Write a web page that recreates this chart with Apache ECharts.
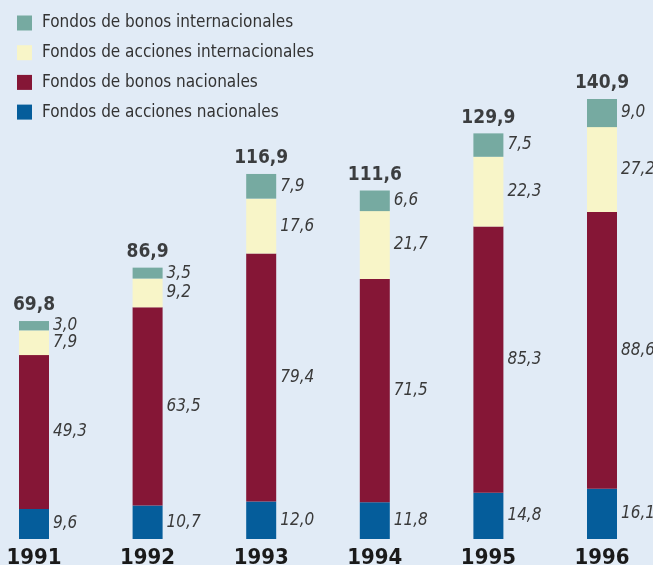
<!DOCTYPE html>
<html>
	<head>
		<meta charset="utf-8">
		<title></title>
		<script src="https://cdn.jsdelivr.net/npm/echarts@6/dist/echarts.min.js"></script>
		<style>
			body { margin: 0; background: #e1ebf6; }
		</style>
	</head>
	<body>
		<div id="main" style="width: 653px;height:565px;"></div>
		<script>
			var years = ['1991', '1992', '1993', '1994', '1995', '1996'];
			var accionesNac = [9.6, 10.7, 12.0, 11.8, 14.8, 16.1];
			var bonosNac = [49.3, 63.5, 79.4, 71.5, 85.3, 88.6];
			var accionesInt = [7.9, 9.2, 17.6, 21.7, 22.3, 27.2];
			var bonosInt = [3.0, 3.5, 7.9, 6.6, 7.5, 9.0];
			var totals = [69.8, 86.9, 116.9, 111.6, 129.9, 140.9];

			var font = '"Liberation Sans Narrow", "DejaVu Sans Condensed", sans-serif';
			function fmt(v) {
				return v.toFixed(1).replace('.', ',');
			}
			// etiqueta a la derecha de cada tramo
			var segLabel = {
				show: true,
				position: 'right',
				distance: 4,
				fontFamily: font,
				fontStyle: 'italic',
				fontSize: 17,
				color: '#3a3a3a',
				formatter: function(p) { return fmt(p.value); }
			};

			function barSerie(name, data, color) {
				return {
					name: name,
					type: 'bar',
					stack: 'total',
					barWidth: 30,
					data: data,
					itemStyle: { color: color },
					label: segLabel
				};
			}

			var myChart = echarts.init(document.getElementById('main'));
			var option = {
				backgroundColor: '#e1ebf6',
				animation: false,
				legend: {
					orient: 'vertical',
					left: 12,
					top: 9,
					itemWidth: 15,
					itemHeight: 15,
					itemGap: 11.7,
					icon: 'rect',
					textStyle: { fontFamily: font, fontSize: 17, lineHeight: 18, color: '#333', padding: [0, 0, 0, 5] },
					data: ['Fondos de bonos internacionales', 'Fondos de acciones internacionales',
						'Fondos de bonos nacionales', 'Fondos de acciones nacionales']
				},
				grid: { left: 34, right: 51, top: 70.6, bottom: 26, containLabel: false, outerBoundsMode: 'none' },
				xAxis: {
					type: 'category',
					data: years,
					boundaryGap: false,
					axisLine: { show: false },
					axisTick: { show: false },
					axisLabel: {
						margin: 8,
						fontFamily: font,
						fontWeight: 'bold',
						fontSize: 22,
						color: '#1a1a1a'
					}
				},
				yAxis: {
					type: 'value',
					min: 0,
					max: 150,
					show: false,
					splitLine: { show: false }
				},
				series: [
					barSerie('Fondos de acciones nacionales', accionesNac, '#055d9b'),
					barSerie('Fondos de bonos nacionales', bonosNac, '#851636'),
					barSerie('Fondos de acciones internacionales', accionesInt, '#f8f5c8'),
					barSerie('Fondos de bonos internacionales', bonosInt, '#76aaa1'),
					{
						name: 'total',
						type: 'scatter',
						symbolSize: 0,
						data: totals,
						label: {
							show: true,
							position: 'top',
							distance: 6,
							fontFamily: font,
							fontWeight: 'bold',
							fontSize: 19,
							color: '#111',
							formatter: function(p) { return fmt(p.value); }
						}
					}
				]
			};
			myChart.setOption(option);
		</script>
	</body>
</html>
